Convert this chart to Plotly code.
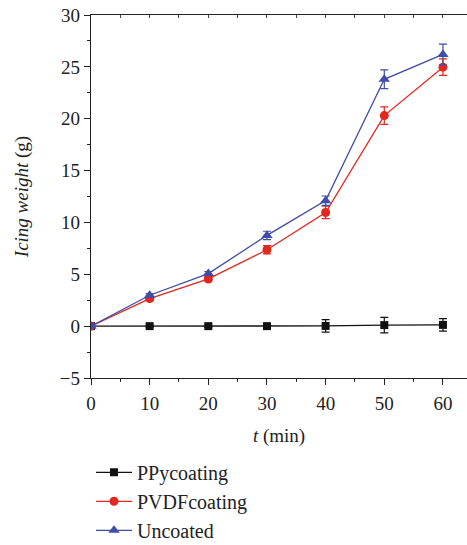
import plotly.graph_objects as go

t = [0, 10, 20, 30, 40, 50, 60]
ppy = [0, 0, 0, 0, 0.02, 0.1, 0.12]
ppy_err = [0, 0.1, 0.1, 0.1, 0.6, 0.75, 0.6]
pvdf = [0, 2.66, 4.55, 7.37, 10.96, 20.3, 24.97]
pvdf_err = [0.1, 0.15, 0.2, 0.4, 0.6, 0.85, 0.8]
unc = [0, 2.98, 5.07, 8.75, 12.1, 23.8, 26.2]
unc_err = [0.1, 0.15, 0.2, 0.4, 0.45, 0.9, 1.0]

FONT = "Liberation Serif"
fig = go.Figure()

def add(name, y, err, color, symbol, size):
    fig.add_trace(go.Scatter(
        x=t, y=y, name=name, mode="lines+markers",
        line=dict(color=color, width=1.3),
        marker=dict(symbol=symbol, size=size, color=color),
        error_y=dict(type="data", array=err, color=color, thickness=1.2, width=4),
    ))

add("PPycoating", ppy, ppy_err, "#111111", "square", 8)
add("PVDFcoating", pvdf, pvdf_err, "#e2271c", "circle", 9)
add("Uncoated", unc, unc_err, "#3f4ca8", "triangle-up", 10)

fig.add_trace(go.Scatter(x=[0], y=[0], xaxis="x2", mode="markers",
                         marker=dict(opacity=0), showlegend=False, hoverinfo="skip"))

tickfont = dict(family=FONT, size=19, color="#222222")
fig.update_layout(
    template="none",
    width=467, height=545,
    margin=dict(l=91, r=0, t=15, b=167, autoexpand=False),
    paper_bgcolor="white", plot_bgcolor="white",
    font=dict(family=FONT, size=18, color="#222222"),
    xaxis=dict(range=[0, 64.1], tickvals=[0, 10, 20, 30, 40, 50, 60], automargin=False,
               showline=True, linecolor="#222222", linewidth=1.3,
               ticks="outside", ticklen=6, tickcolor="#222222", ticklabeloverflow="allow",
               ticklabelstandoff=2,
               minor=dict(dtick=5, ticks="outside", ticklen=3, tickcolor="#222222", showgrid=False),
               showgrid=False, zeroline=False, tickfont=tickfont,
               title=dict(text="<i>t</i> (min)", font=dict(family=FONT, size=19), standoff=15)),
    xaxis2=dict(range=[0, 64.1], overlaying="x", side="top", anchor="y",
                showline=True, linecolor="#222222", linewidth=1.3,
                tickvals=[0, 10, 20, 30, 40, 50, 60], ticks="inside", ticklen=3, tickcolor="#444444",
                minor=dict(dtick=5, ticks="inside", ticklen=3, tickcolor="#444444", showgrid=False),
                showticklabels=False, showgrid=False, zeroline=False),
    yaxis=dict(range=[-5, 30], tickvals=[-5, 0, 5, 10, 15, 20, 25, 30], automargin=False,
               ticktext=["\u22125", "0", "5", "10", "15", "20", "25", "30"],
               showline=True, linecolor="#222222", linewidth=1.3, ticklabeloverflow="allow",
               ticks="outside", ticklen=6, tickcolor="#222222",
               minor=dict(dtick=2.5, ticks="outside", ticklen=3, tickcolor="#222222", showgrid=False),
               showgrid=False, zeroline=False, tickfont=tickfont,
               title=dict(text="<i>Icing weight</i> (g)", font=dict(family=FONT, size=19), standoff=26)),
    legend=dict(x=0.0, y=-0.206, xanchor="left", yanchor="top",
                font=dict(family=FONT, size=20, color="#222222"),
                bgcolor="rgba(0,0,0,0)", tracegroupgap=0, itemwidth=36),
    showlegend=True,
)

fig.write_html("out.html", config={"displayModeBar": False},
               post_script="document.body.style.margin='0px';")
